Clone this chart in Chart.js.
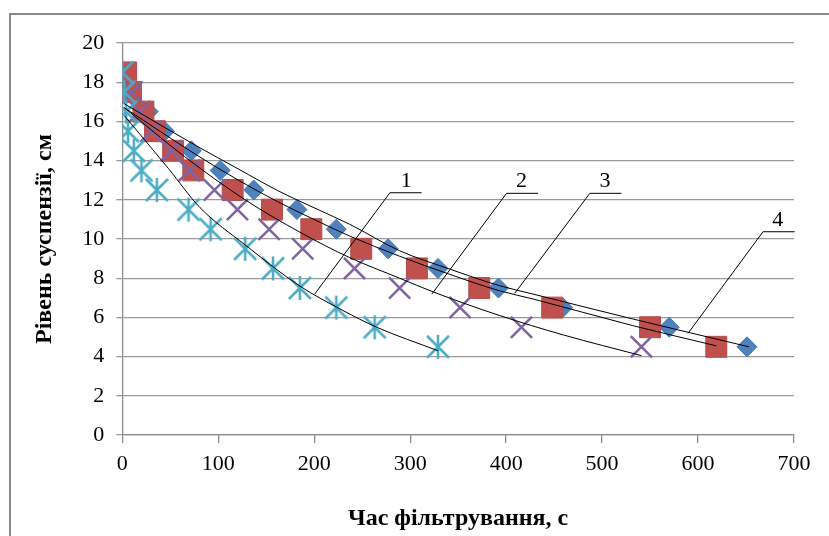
<!DOCTYPE html>
<html>
<head>
<meta charset="utf-8">
<script src="https://cdn.jsdelivr.net/npm/chart.js@4"></script>
<style>
  body { margin: 0; background: #fff; }
  #wrap { position: relative; width: 829px; height: 536px; overflow: hidden; }
  #frame { position: absolute; left: 9px; top: 13px; width: 900px; height: 600px;
           border-top: 2px solid #8a8a8a; border-left: 2px solid #8a8a8a; }
  canvas { position: absolute; left: 0; top: 0; }
</style>
</head>
<body>
<div id="wrap">
  <div id="frame"></div>
  <canvas id="grafico" width="829" height="536"></canvas>
</div>
<script>
// рівень суспензії (см) для кожної точки
const levels = [18.5, 17.5, 16.5, 15.5, 14.5, 13.5, 12.5, 11.5, 10.5, 9.5, 8.5, 7.5, 6.5, 5.5, 4.5];

// час фільтрування (с) для кожної серії
const time1 = [0, 2, 4, 6, 12, 20, 36, 69, 92, 128, 157, 185, 223, 263, 329];      // зірочки
const time2 = [0, 10, 18, 30, 51, 70, 96, 120, 153, 188, 242, 289, 352, 416, 541];  // хрестики
const time3 = [4, 9, 22, 34, 53, 74, 115, 156, 197, 249, 307, 372, 448, 550, 619];  // квадрати
const time4 = [0, 8, 27, 44, 72, 102, 137, 182, 223, 277, 329, 392, 459, 570, 651]; // ромби

// лінії тренду
const curve1X = [2, 48, 81, 128, 185, 230, 265, 329];
const curve1Y = [16.3, 13.6, 11.6, 9.7, 7.6, 6.35, 5.5, 4.3];
const curve2X = [2, 65, 128, 185, 237, 289, 324, 393, 460, 541];
const curve2Y = [16.7, 14.2, 12.0, 10.35, 9.05, 8.0, 7.3, 6.1, 5.1, 4.05];
const curve3X = [2, 77, 121, 162, 204, 237, 289, 341, 393, 428, 532, 619];
const curve3Y = [16.7, 14.3, 13.0, 11.9, 10.9, 10.15, 9.12, 8.2, 7.36, 6.94, 5.58, 4.55];
const curve4X = [2, 77, 121, 162, 204, 237, 289, 341, 393, 428, 532, 653];
const curve4Y = [16.9, 14.76, 13.57, 12.47, 11.5, 10.75, 9.4, 8.47, 7.62, 7.19, 5.92, 4.5];

// виноски з номерами кривих
const labelNames = ['1', '2', '3', '4'];
const labelX = [296, 416, 503, 683];
const labelY = [12.95, 12.95, 12.95, 10.95];
const leaderX = [[200.5, 278.9, 311.9], [322.6, 400.4, 433.3], [409, 487.2, 520.2], [589.6, 667.7, 700.7]];
const leaderY = [[7.19, 12.36, 12.36], [7.19, 12.33, 12.33], [7.23, 12.33, 12.33], [5.19, 10.37, 10.37]];

const xTicks = [0, 100, 200, 300, 400, 500, 600, 700];
const yTicks = [0, 2, 4, 6, 8, 10, 12, 14, 16, 18, 20];

const pts = (xs, ys) => xs.map((v, i) => ({ x: v, y: ys[i] }));

// маркер-зірочка як в Excel (X + вертикальна риска)
function makeStar() {
  const c = document.createElement('canvas');
  c.width = 26; c.height = 26;
  const g = c.getContext('2d');
  g.strokeStyle = '#4BACC6';
  g.lineWidth = 2.5;
  g.beginPath();
  g.moveTo(2, 2); g.lineTo(24, 24);
  g.moveTo(24, 2); g.lineTo(2, 24);
  g.moveTo(13, 1); g.lineTo(13, 25);
  g.stroke();
  return c;
}

const curveStyle = {
  showLine: true, pointRadius: 0, borderColor: '#000', borderWidth: 1,
  cubicInterpolationMode: 'monotone', order: 0
};

const datasets = [
  { ...curveStyle, data: pts(curve1X, curve1Y) },
  { ...curveStyle, data: pts(curve2X, curve2Y) },
  { ...curveStyle, data: pts(curve3X, curve3Y) },
  { ...curveStyle, data: pts(curve4X, curve4Y) },
  ...leaderX.map((lx, i) => ({
    showLine: true, pointRadius: 0, borderColor: '#000', borderWidth: 1,
    tension: 0, clip: false, order: 0, data: pts(lx, leaderY[i])
  })),
  { data: pts(time1, levels), pointStyle: makeStar(), pointRadius: 13, order: 1 },
  { data: pts(time2, levels), pointStyle: 'crossRot', pointRadius: 15,
    borderColor: '#8064A2', borderWidth: 2.5, order: 2 },
  { data: pts(time3, levels), pointStyle: 'rect', pointRadius: 14.8,
    backgroundColor: '#C0504D', borderColor: '#B84C49', borderWidth: 1, order: 3 },
  { data: pts(time4, levels), pointStyle: 'rectRot', pointRadius: 10,
    backgroundColor: '#4F81BD', borderColor: '#4577B3', borderWidth: 1, order: 4 }
];

const labelPlugin = {
  id: 'curveLabels',
  afterDatasetsDraw(chart) {
    const { ctx, scales: { x, y } } = chart;
    ctx.save();
    ctx.font = '22px "Liberation Serif"';
    ctx.fillStyle = '#000';
    ctx.textAlign = 'center';
    ctx.textBaseline = 'middle';
    labelNames.forEach((t, i) => {
      ctx.fillText(t, x.getPixelForValue(labelX[i]), y.getPixelForValue(labelY[i]));
    });
    ctx.restore();
  }
};

new Chart(document.getElementById('grafico'), {
  type: 'scatter',
  data: { datasets },
  options: {
    responsive: false,
    animation: false,
    layout: { padding: { left: 26, top: 43, right: 35, bottom: 0 } },
    plugins: { legend: { display: false }, tooltip: { enabled: false } },
    scales: {
      x: {
        type: 'linear', min: 0, max: 700,
        afterBuildTicks: s => { s.ticks = xTicks.map(v => ({ value: v })); },
        afterFit: s => { s.height = 101; },
        grid: { drawOnChartArea: false, drawTicks: true, tickLength: 8, color: '#8c8c8c', lineWidth: 1.3 },
        border: { color: '#8c8c8c', width: 1.3 },
        ticks: { color: '#000', padding: 8, maxRotation: 0, font: { family: '"Liberation Serif"', size: 22 } },
        title: { display: true, text: 'Час фільтрування, с', color: '#000', padding: { top: 4, bottom: 3 },
                 font: { family: '"Liberation Serif"', size: 24, weight: 'bold' } }
      },
      y: {
        type: 'linear', min: 0, max: 20,
        afterBuildTicks: s => { s.ticks = yTicks.map(v => ({ value: v })); },
        afterFit: s => { s.width = 96.3; },
        grid: { color: '#9a9a9a', lineWidth: 1.3, tickLength: 6 },
        border: { color: '#8c8c8c', width: 1.3 },
        ticks: { color: '#000', padding: 12, font: { family: '"Liberation Serif"', size: 22 } },
        title: { display: true, text: 'Рівень суспензії, см', color: '#000',
                 font: { family: '"Liberation Serif"', size: 24, weight: 'bold' } }
      }
    }
  },
  plugins: [labelPlugin]
});
</script>
</body>
</html>
